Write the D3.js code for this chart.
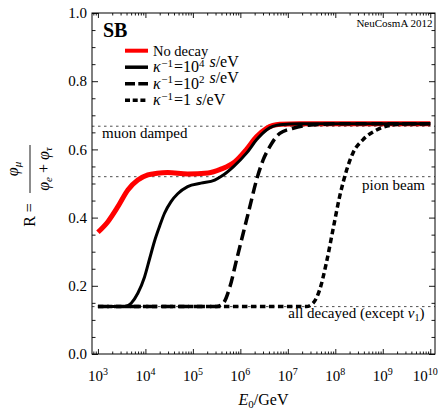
<!DOCTYPE html>
<html>
<head>
<meta charset="utf-8">
<script src="https://cdn.jsdelivr.net/npm/d3@7"></script>
<style>
  body { margin: 0; background: #fff; }
  svg { display: block; }
</style>
</head>
<body>
<div id="chart"></div>
<script>
// log10(E0/GeV) and flavour ratio R
const noDecayLogE = [3.0, 3.21, 3.42, 3.63, 3.84, 4.05, 4.25, 4.47, 4.89, 5.32, 5.59, 5.88, 6.13, 6.34, 6.55, 6.83, 7.25, 8.0, 10.0];
const noDecayR    = [0.357, 0.388, 0.432, 0.481, 0.510, 0.525, 0.530, 0.532, 0.528, 0.531, 0.542, 0.563, 0.600, 0.637, 0.662, 0.674, 0.675, 0.675, 0.675];

const k4LogE = [3.0, 3.56, 3.70, 3.84, 3.98, 4.09, 4.19, 4.30, 4.40, 4.54, 4.68, 4.89, 5.17, 5.46, 5.6, 5.85, 6.13, 6.34, 6.55, 6.83, 7.25, 8.0, 10.0];
const k4R    = [0.139, 0.139, 0.149, 0.178, 0.225, 0.280, 0.330, 0.375, 0.412, 0.447, 0.470, 0.491, 0.501, 0.510, 0.521, 0.549, 0.589, 0.628, 0.657, 0.672, 0.675, 0.675, 0.675];

const k2LogE = [3.0, 5.50, 5.64, 5.78, 5.92, 6.06, 6.20, 6.34, 6.48, 6.62, 6.83, 7.11, 7.53, 8.1, 10.0];
const k2R    = [0.139, 0.139, 0.149, 0.197, 0.276, 0.354, 0.432, 0.510, 0.569, 0.608, 0.647, 0.662, 0.672, 0.675, 0.675];

const k0LogE = [3.0, 7.39, 7.53, 7.67, 7.81, 7.95, 8.09, 8.24, 8.37, 8.58, 8.87, 9.22, 9.57, 10.0];
const k0R    = [0.139, 0.139, 0.149, 0.188, 0.266, 0.364, 0.461, 0.540, 0.589, 0.628, 0.657, 0.672, 0.675, 0.675];

// reference levels: muon damped, pion beam, all decayed
const refLevels = [0.668, 0.52, 0.139];
const refLabels = ["muon damped", "pion beam", "all decayed"];

const xMajorExp = [3, 4, 5, 6, 7, 8, 9, 10];
const yMajor = [0, 0.2, 0.4, 0.6, 0.8, 1.0];

const FONT = '"Liberation Serif"';
const width = 444, height = 412;
const margins = { top: 13, right: 9, bottom: 58, left: 92 };
const innerWidth = width - margins.left - margins.right;
const innerHeight = height - margins.top - margins.bottom;

const svg = d3.select("#chart").append("svg")
  .attr("width", width)
  .attr("height", height);

const mainG = svg.append("g")
  .attr("transform", `translate(${margins.left},${margins.top})`);

const x = d3.scaleLog()
  .domain([10 ** 2.875, 10 ** 10.1])
  .range([0, innerWidth]);

const y = d3.scaleLinear()
  .domain([0, 1])
  .range([innerHeight, 0]);

// tick values
const xMajor = xMajorExp.map((e) => 10 ** e);
const xMinor = [];
for (let e = 2; e <= 10; e++) {
  for (let m = 2; m <= 9; m++) {
    const v = m * 10 ** e;
    if (v > x.domain()[0] && v < x.domain()[1]) xMinor.push(v);
  }
}
const yMinor = d3.range(0, 1.0001, 0.05).filter((v) => Math.abs(v * 5 - Math.round(v * 5)) > 1e-6);

// inward ticks on all four sides
const tickAxes = [
  [d3.axisBottom(x).tickValues(xMajor).tickSize(-5), `translate(0,${innerHeight})`],
  [d3.axisBottom(x).tickValues(xMinor).tickSize(-2.5), `translate(0,${innerHeight})`],
  [d3.axisTop(x).tickValues(xMajor).tickSize(-5), null],
  [d3.axisTop(x).tickValues(xMinor).tickSize(-2.5), null],
  [d3.axisLeft(y).tickValues(yMajor).tickSize(-6), null],
  [d3.axisLeft(y).tickValues(yMinor).tickSize(-3.5), null],
  [d3.axisRight(y).tickValues(yMajor).tickSize(-6), `translate(${innerWidth},0)`],
  [d3.axisRight(y).tickValues(yMinor).tickSize(-3.5), `translate(${innerWidth},0)`],
];
tickAxes.forEach(([axis, tr]) => {
  const g = mainG.append("g").call(axis.tickFormat(""));
  g.select(".domain").remove();
  g.selectAll("text").remove();
  if (tr) g.attr("transform", tr);
  g.selectAll("line").attr("stroke", "#000").attr("stroke-width", 0.9);
});

// reference dotted lines
mainG.append("g").selectAll("line")
  .data(refLevels)
  .join("line")
  .attr("x1", 0)
  .attr("x2", innerWidth)
  .attr("y1", (d) => y(d))
  .attr("y2", (d) => y(d))
  .attr("stroke", "#222")
  .attr("stroke-width", 0.8)
  .attr("stroke-dasharray", "2.5,3.5");

// curves
const line = d3.line()
  .x((d) => x(10 ** d[0]))
  .y((d) => y(d[1]))
  .curve(d3.curveMonotoneX);

const series = [
  { id: "nodecay", pts: d3.zip(noDecayLogE, noDecayR), color: "#ff0000", width: 5, dash: null },
  { id: "k0", pts: d3.zip(k0LogE, k0R), color: "#000", width: 3.5, dash: "5.5,3.5" },
  { id: "k2", pts: d3.zip(k2LogE, k2R), color: "#000", width: 3.5, dash: "11,5" },
  { id: "k4", pts: d3.zip(k4LogE, k4R), color: "#000", width: 3, dash: null },
];

mainG.append("g").attr("class", "curves")
  .selectAll("path")
  .data(series)
  .join("path")
  .attr("d", (d) => line(d.pts))
  .attr("fill", "none")
  .attr("stroke", (d) => d.color)
  .attr("stroke-width", (d) => d.width)
  .attr("stroke-dasharray", (d) => d.dash);

// frame
mainG.append("rect")
  .attr("width", innerWidth)
  .attr("height", innerHeight)
  .attr("fill", "none")
  .attr("stroke", "#000")
  .attr("stroke-width", 1);

// y tick labels
mainG.append("g").selectAll("text")
  .data(yMajor)
  .join("text")
  .attr("x", -5)
  .attr("y", (d) => y(d))
  .attr("dy", "0.35em")
  .attr("text-anchor", "end")
  .attr("font-size", "15px")
  .text((d) => d.toFixed(1));

// x tick labels 10^n (last one pulled in so it stays on the page)
const xLab = mainG.append("g").selectAll("text")
  .data(xMajorExp)
  .join("text")
  .attr("x", (d) => x(10 ** d) - (d === 10 ? 5 : 0))
  .attr("y", innerHeight + 27)
  .attr("text-anchor", "middle")
  .attr("font-size", "15px");
xLab.append("tspan").text("10");
xLab.append("tspan").attr("dy", "-6").attr("font-size", "10px").text((d) => d);

// axis titles
const xTitle = svg.append("text")
  .attr("x", margins.left + innerWidth / 2)
  .attr("y", 405)
  .attr("text-anchor", "middle")
  .attr("font-size", "16px");
xTitle.append("tspan").attr("font-style", "italic").text("E");
xTitle.append("tspan").attr("dy", 3).attr("font-size", "11px").text("0");
xTitle.append("tspan").attr("dy", -3).text("/GeV");

const yTitle = svg.append("g").attr("transform", "rotate(-90)").attr("font-size", "16px");
yTitle.append("text")
  .attr("x", -215).attr("y", 35)
  .attr("text-anchor", "middle")
  .text("R =");
yTitle.append("line")
  .attr("x1", -193).attr("x2", -145)
  .attr("y1", 30).attr("y2", 30)
  .attr("stroke", "#000").attr("stroke-width", 0.9);
const num = yTitle.append("text")
  .attr("x", -169).attr("y", 18)
  .attr("text-anchor", "middle")
  .attr("font-style", "italic");
num.append("tspan").text("φ");
num.append("tspan").attr("dy", 3).attr("font-size", "11px").text("μ");
const den = yTitle.append("text")
  .attr("x", -169).attr("y", 49)
  .attr("text-anchor", "middle")
  .attr("font-style", "italic");
den.append("tspan").text("φ");
den.append("tspan").attr("dy", 3).attr("font-size", "11px").text("e");
den.append("tspan").attr("dy", -3).attr("font-style", "normal").text(" + ");
den.append("tspan").text("φ");
den.append("tspan").attr("dy", 3).attr("font-size", "11px").text("τ");

// panel tag and credit
svg.append("text")
  .attr("x", 103).attr("y", 37)
  .attr("font-size", "20px").attr("font-weight", "bold")
  .text("SB");
svg.append("text")
  .attr("x", 432.5).attr("y", 26.5)
  .attr("text-anchor", "end")
  .attr("font-size", "11px")
  .text("NeuCosmA 2012");

// reference-level labels
svg.append("text")
  .attr("x", 102).attr("y", 137.5)
  .attr("font-size", "15px")
  .text(refLabels[0]);
svg.append("text")
  .attr("x", 425).attr("y", 190)
  .attr("text-anchor", "end")
  .attr("font-size", "15px")
  .text(refLabels[1]);
const allDec = svg.append("text")
  .attr("x", 424.5).attr("y", 318)
  .attr("text-anchor", "end")
  .attr("font-size", "15px");
allDec.append("tspan").text(refLabels[2] + " (except ");
allDec.append("tspan").attr("font-style", "italic").text("ν");
allDec.append("tspan").attr("dy", 3).attr("font-size", "10px").text("1");
allDec.append("tspan").attr("dy", -3).text(")");

// legend
const legendItems = [
  { key: "nodecay", exp: null },
  { key: "k4", exp: "4" },
  { key: "k2", exp: "2" },
  { key: "k0", exp: null, one: true },
];
const legendG = svg.append("g").attr("font-size", "16px");
legendItems.forEach((item, i) => {
  const s = series.find((d) => d.id === item.key);
  const yy = 50.7 + i * 16.5;
  legendG.append("line")
    .attr("x1", 125).attr("x2", 148)
    .attr("y1", yy).attr("y2", yy)
    .attr("stroke", s.color)
    .attr("stroke-width", s.id === "nodecay" ? 4 : 3.5)
    .attr("stroke-dasharray", s.id === "k2" ? "10,3.3" : s.id === "k0" ? "5,2.7" : null);
  const t = legendG.append("text").attr("x", 153).attr("y", yy + 5);
  if (item.key === "nodecay") {
    t.attr("font-size", "14.5px").text("No decay");
    return;
  }
  t.append("tspan").attr("font-style", "italic").text("κ");
  t.append("tspan").attr("dx", 0.5).attr("dy", -5.5).attr("font-size", "11px").text("−1");
  if (item.one) {
    t.append("tspan").attr("dx", 1).attr("dy", 5.5).text("=1");
  } else {
    t.append("tspan").attr("dx", 1).attr("dy", 5.5).text("=10");
    t.append("tspan").attr("dy", -5.5).attr("font-size", "11px").text(item.exp);
    t.append("tspan").attr("dy", 5.5).text("");
  }
  t.append("tspan").attr("dx", 5).attr("font-style", "italic").text("s");
  t.append("tspan").text("/eV");
});

// serif everywhere, set inline so nothing overrides it
svg.selectAll("text").style("font-family", FONT);
</script>
</body>
</html>
